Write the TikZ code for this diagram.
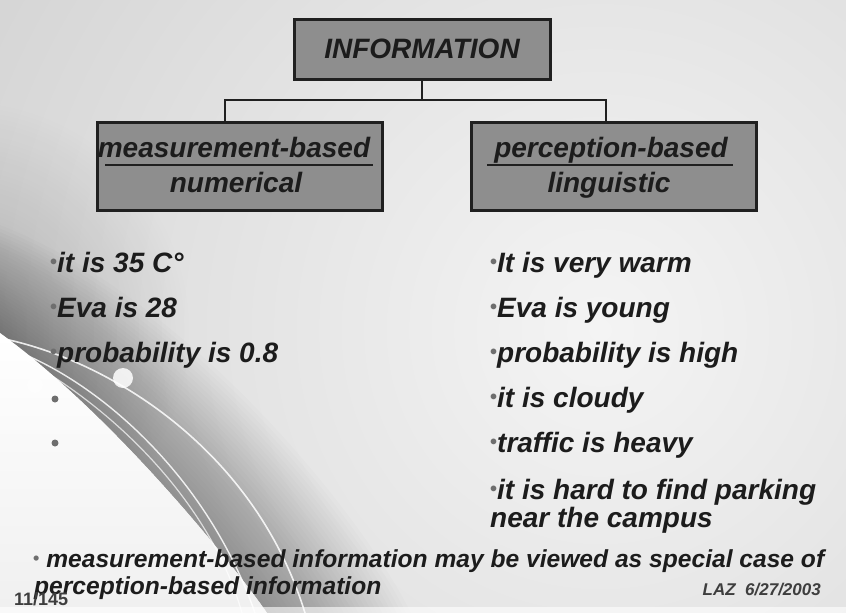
\documentclass[tikz,border=0pt]{standalone}
\usepackage{fontspec}
\setmainfont{Liberation Sans}
\usetikzlibrary{calc,fadings}
\definecolor{bgbase}{HTML}{E4E4E4}
\definecolor{bglight}{HTML}{F4F4F4}
\definecolor{bgdark}{HTML}{D4D4D4}
\definecolor{boxgray}{HTML}{8E8E8E}
\definecolor{ink}{HTML}{1C1C1C}
\definecolor{edgeink}{HTML}{202020}
\definecolor{dotgray}{HTML}{6E6E6E}
\tikzfading[name=softspot, inner color=transparent!0, outer color=transparent!100]
\newcommand\smallbul{{\color{dotgray}\fontsize{20}{20}\selectfont\raisebox{4pt}{\upshape•}}}
\begin{document}
\begin{tikzpicture}[x=1pt,y=-1pt,
  catbox/.style={draw=edgeink, line width=3pt, fill=boxgray, inner sep=0pt,
                 font=\fontsize{28}{30}\selectfont\bfseries\itshape, text=ink},
  wire/.style={draw=edgeink, line width=2.5pt, line join=miter},
  uline/.style={draw=edgeink, line width=2.5pt},
  boxtext/.style={font=\fontsize{28}{30}\selectfont\bfseries\itshape, text=ink,
                  inner sep=0pt, anchor=base},
  item/.style={font=\fontsize{28}{30}\selectfont\bfseries\itshape, text=ink,
               inner sep=0pt, anchor=base west},
  emptydot/.style={circle, fill=dotgray, minimum size=7pt, inner sep=0pt},
  notetext/.style={font=\fontsize{24.6}{26}\selectfont\bfseries\itshape, text=ink,
                   inner sep=0pt, anchor=base west},
  footer/.style={font=\fontsize{18}{19}\selectfont\bfseries, text=ink!85, inner sep=0pt}]
\useasboundingbox (0,0) rectangle (846,613);

% ---- slide background ----
\begin{scope}
  \clip (0,0) rectangle (846,613);
  \fill[bgbase] (0,0) rectangle (846,613);
  \shade[inner color=bglight, outer color=bgdark] (600,330) circle (720);
  \fill[black, opacity=0.2, path fading=softspot] (-40,330) circle (230);
  % swoosh band: stacked translucent layers, darkest along the white edge
  \foreach \s in {4,8,...,120} {
    \fill[black, opacity=0.011]
      (0,333-0.9*\s) .. controls (120+0.6*\s,420-\s) and (245+\s,580-0.5*\s) .. (267+1.2*\s,613)
      -- (267,613) .. controls (245,580) and (120,420) .. (0,333) -- cycle;
  }
  \shade[top color=white, bottom color=white!94!black]
    (0,333) .. controls (120,420) and (245,580) .. (267,613) -- (0,613) -- cycle;
  % thin white arcs on the swoosh
  \draw[white, line width=1.6pt, opacity=0.85]
    (0,338) .. controls (110,360) and (255,450) .. (305,613);
  \draw[white, line width=1.4pt, opacity=0.85]
    (5,347) .. controls (90,375) and (205,470) .. (255,613);
  \draw[white, line width=1.2pt, opacity=0.7]
    (20,357) .. controls (110,405) and (210,500) .. (242,613);
  \fill[white, opacity=0.85] (123,378) circle (10);
  \fill[white, opacity=0.35] (35,385) circle (8);
  \fill[white, opacity=0.6] (0,607) rectangle (846,613);
\end{scope}

% ---- hierarchy ----
\node[catbox, minimum width=256pt, minimum height=60pt] (info) at (422,49) {INFORMATION};
\node[catbox, minimum width=285pt, minimum height=88pt] (meas) at (239.5,166) {};
\node[catbox, minimum width=285pt, minimum height=88pt] (perc) at (613.5,166) {};

\node[boxtext] (measlbl) at (234,157) {measurement-based};
\node[boxtext] (numlbl) at (236,192) {numerical};
\node[boxtext] (perclbl) at (611,157) {perception-based};
\node[boxtext] (linglbl) at (609,192) {linguistic};
\draw[uline] (105,165) -- (373,165);
\draw[uline] (487,165) -- (733,165);

\coordinate (hub) at (422,100);
\coordinate (jl) at (225,100);
\coordinate (jr) at (606,100);
\draw[wire] (info.south) -- (hub);
\draw[wire] (jl |- meas.north) -- (jl) -- (jr) -- (jr |- perc.north);

% ---- left column: numerical examples ----
\node[item] (l1) at (50,272) {\smallbul it is 35 C°};
\node[item] (l2) at (50,317) {\smallbul Eva is 28};
\node[item] (l3) at (50,362) {\smallbul probability is 0.8};
\node[emptydot] (l4) at (55,399) {};
\node[emptydot] (l5) at (55,443) {};

% ---- right column: linguistic examples ----
\node[item] (r1) at (490,272) {\smallbul It is very warm};
\node[item] (r2) at (490,317) {\smallbul Eva is young};
\node[item] (r3) at (490,362) {\smallbul probability is high};
\node[item] (r4) at (490,407) {\smallbul it is cloudy};
\node[item] (r5) at (490,452) {\smallbul traffic is heavy};
\node[item] (r6) at (490,499) {\smallbul it is hard to find parking};
\node[item] (r7) at (490,527) {near the campus};

% ---- closing remark and footer ----
\node[notetext] (n1) at (33,567) {{\color{dotgray}\upshape\fontsize{18}{18}\selectfont\raisebox{3pt}{•}}\ measurement-based information may be viewed as special case of};
\node[notetext] (n2) at (34,594) {perception-based information};
\node[footer, anchor=base west] (pg) at (14,605) {11/145};
\node[footer, anchor=base east, font=\fontsize{17}{18}\selectfont\bfseries\itshape] (sig) at (821,595) {LAZ\ \ 6/27/2003};
\end{tikzpicture}
\end{document}
